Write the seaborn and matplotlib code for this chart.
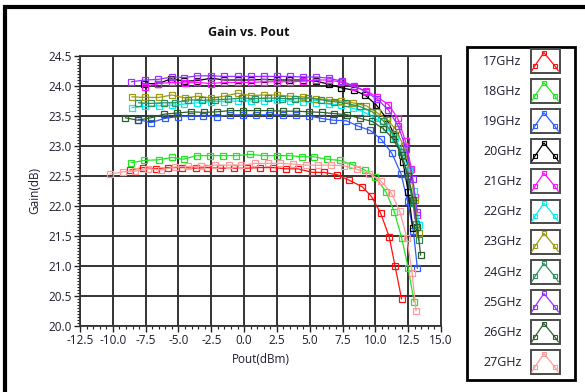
import numpy as np
import pandas as pd
import matplotlib
matplotlib.use("Agg")
import matplotlib.pyplot as plt
import seaborn as sns
from matplotlib.lines import Line2D
from matplotlib.patches import Rectangle
from matplotlib.legend_handler import HandlerBase
from matplotlib.ticker import MultipleLocator, FormatStrFormatter

# ---------------- data ----------------
freqs = ["17GHz", "18GHz", "19GHz", "20GHz", "21GHz", "22GHz",
         "23GHz", "24GHz", "25GHz", "26GHz", "27GHz"]

pout_17 = [-8.7, -7.7, -6.7, -5.8, -4.7, -3.7, -2.8, -1.8, -0.8, 0.2, 1.2, 2.2,
           3.2, 4.1, 5.2, 6.1, 7.1, 8.0, 9.0, 9.7, 10.4, 11.05, 11.5, 12.0]
gain_17 = [22.60, 22.64, 22.62, 22.64, 22.64, 22.63, 22.64, 22.63, 22.63, 22.63,
           22.64, 22.64, 22.62, 22.62, 22.56, 22.56, 22.52, 22.43, 22.32, 22.16,
           21.88, 21.49, 21.00, 20.45]

pout_18 = [-8.6, -7.6, -6.5, -5.5, -4.6, -3.6, -2.6, -1.6, -0.6, 0.45, 1.5, 2.5,
           3.4, 4.4, 5.3, 6.3, 7.3, 8.25, 9.2, 10.0, 10.8, 11.45, 12.0, 12.5, 12.95]
gain_18 = [22.72, 22.76, 22.77, 22.81, 22.78, 22.84, 22.84, 22.84, 22.84, 22.86,
           22.84, 22.84, 22.84, 22.82, 22.82, 22.78, 22.76, 22.69, 22.60, 22.48,
           22.24, 21.90, 21.47, 20.97, 20.40]

pout_19 = [-8.05, -7.1, -6.05, -5.05, -4.05, -3.1, -2.05, -1.05, -0.1, 0.9, 1.9,
           2.95, 3.95, 4.95, 5.9, 6.8, 7.8, 8.7, 9.6, 10.45, 11.25, 11.95, 12.45,
           12.9, 13.2]
gain_19 = [23.44, 23.39, 23.46, 23.49, 23.50, 23.50, 23.49, 23.52, 23.52, 23.52,
           23.52, 23.52, 23.51, 23.50, 23.46, 23.43, 23.42, 23.33, 23.26, 23.11,
           22.88, 22.54, 22.08, 21.58, 20.96]

pout_20 = [-7.6, -6.55, -5.55, -4.55, -3.55, -2.5, -1.5, -0.5, 0.5, 1.5, 2.5,
           3.45, 4.5, 5.5, 6.45, 7.4, 8.35, 9.2, 10.05, 10.85, 11.5, 12.1, 12.5,
           12.85]
gain_20 = [24.04, 24.04, 24.12, 24.08, 24.09, 24.13, 24.10, 24.10, 24.10, 24.11,
           24.10, 24.10, 24.10, 24.08, 24.03, 23.97, 23.93, 23.85, 23.69, 23.46,
           23.16, 22.74, 22.24, 21.64]

pout_21 = [-7.55, -6.55, -5.5, -4.5, -3.55, -2.55, -1.5, -0.5, 0.5, 1.5, 2.5,
           3.5, 4.5, 5.5, 6.5, 7.4, 8.35, 9.3, 10.1, 11.0, 11.7, 12.3, 12.75,
           13.0, 13.15]
gain_21 = [23.99, 24.04, 24.06, 24.05, 24.06, 24.04, 24.06, 24.06, 24.06, 24.07,
           24.07, 24.07, 24.08, 24.10, 24.10, 24.06, 23.99, 23.92, 23.82, 23.69,
           23.46, 23.08, 22.62, 22.15, 21.85]

pout_22 = [-8.55, -7.55, -6.5, -5.5, -4.55, -3.55, -2.55, -1.5, -0.5, 0.5, 1.5,
           2.5, 3.5, 4.5, 5.5, 6.45, 7.4, 8.3, 9.2, 10.0, 10.8, 11.5, 12.05,
           12.55, 12.95, 13.35]
gain_22 = [23.64, 23.66, 23.67, 23.68, 23.70, 23.72, 23.74, 23.74, 23.75, 23.75,
           23.75, 23.76, 23.75, 23.74, 23.72, 23.70, 23.68, 23.63, 23.56, 23.46,
           23.32, 23.14, 22.90, 22.60, 22.25, 21.68]

pout_23 = [-8.55, -7.55, -6.5, -5.5, -4.5, -3.5, -2.5, -1.5, -0.5, 0.5, 1.5,
           2.5, 3.5, 4.5, 5.45, 6.45, 7.35, 8.3, 9.3, 10.1, 10.9, 11.55, 12.15,
           12.65, 13.0, 13.3]
gain_23 = [23.82, 23.81, 23.81, 23.85, 23.80, 23.83, 23.80, 23.83, 23.88, 23.84,
           23.85, 23.85, 23.83, 23.82, 23.79, 23.77, 23.75, 23.72, 23.67, 23.56,
           23.44, 23.28, 23.00, 22.60, 22.10, 21.55]

pout_24 = [-8.05, -7.1, -6.1, -5.3, -4.3, -3.2, -2.2, -1.2, -0.15, 0.85, 1.85,
           2.9, 3.9, 4.9, 5.85, 6.85, 7.8, 8.8, 9.75, 10.6, 11.35, 11.95, 12.45,
           12.85, 13.1, 13.3]
gain_24 = [23.72, 23.71, 23.72, 23.72, 23.77, 23.76, 23.77, 23.78, 23.80, 23.79,
           23.80, 23.79, 23.79, 23.80, 23.77, 23.74, 23.71, 23.66, 23.57, 23.42,
           23.20, 22.90, 22.50, 22.05, 21.70, 21.43]

pout_25 = [-8.6, -7.55, -6.55, -5.5, -4.55, -3.55, -2.5, -1.5, -0.5, 0.5, 1.5,
           2.5, 3.5, 4.5, 5.5, 6.45, 7.45, 8.4, 9.3, 10.15, 11.0, 11.75, 12.35,
           12.85, 13.2]
gain_25 = [24.07, 24.10, 24.11, 24.15, 24.14, 24.17, 24.17, 24.16, 24.16, 24.16,
           24.16, 24.16, 24.16, 24.15, 24.15, 24.13, 24.08, 24.00, 23.90, 23.78,
           23.60, 23.33, 22.95, 22.45, 21.90]

pout_26 = [-9.05, -8.1, -7.1, -6.1, -5.1, -4.05, -3.05, -2.05, -1.05, -0.05, 0.95,
           1.95, 2.95, 3.95, 4.95, 5.95, 6.85, 7.85, 8.85, 9.75, 10.6, 11.35,
           12.0, 12.5, 12.9, 13.2, 13.45]
gain_26 = [23.47, 23.43, 23.47, 23.53, 23.55, 23.57, 23.56, 23.57, 23.59, 23.59,
           23.59, 23.59, 23.58, 23.58, 23.57, 23.56, 23.54, 23.52, 23.46, 23.41,
           23.29, 23.12, 22.85, 22.50, 22.10, 21.65, 21.18]

pout_27 = [-10.2, -9.2, -8.3, -7.3, -6.3, -5.3, -4.25, -3.3, -2.2, -1.15, -0.2,
           0.85, 1.8, 2.75, 3.7, 4.7, 5.65, 6.65, 7.6, 8.6, 9.55, 10.4, 11.2,
           11.85, 12.4, 12.8, 13.1]
gain_27 = [22.53, 22.57, 22.58, 22.62, 22.60, 22.65, 22.66, 22.66, 22.68, 22.68,
           22.68, 22.71, 22.71, 22.71, 22.70, 22.68, 22.68, 22.68, 22.67, 22.61,
           22.54, 22.42, 22.22, 21.92, 21.47, 20.88, 20.25]

pouts = [pout_17, pout_18, pout_19, pout_20, pout_21, pout_22,
         pout_23, pout_24, pout_25, pout_26, pout_27]
gains = [gain_17, gain_18, gain_19, gain_20, gain_21, gain_22,
         gain_23, gain_24, gain_25, gain_26, gain_27]

colors = ["#ff1010", "#22e622", "#2f5bff", "#000000", "#ff10ff", "#00f0f0",
          "#9c9a10", "#2e9060", "#9a30ff", "#2e5e2e", "#ff9a9a"]

x_ticks = [-12.5, -10.0, -7.5, -5.0, -2.5, 0.0, 2.5, 5.0, 7.5, 10.0, 12.5, 15.0]
y_ticks = [20.0, 20.5, 21.0, 21.5, 22.0, 22.5, 23.0, 23.5, 24.0, 24.5]

df = pd.concat([pd.DataFrame({"Pout": p, "Gain": g, "Freq": f})
                for p, g, f in zip(pouts, gains, freqs)], ignore_index=True)

# ---------------- styling ----------------
sns.set_style("white")
plt.rcParams["font.family"] = ["Open Sans", "DejaVu Sans"]
text_col = "#1c1c30"

W, H = 585, 392
fig = plt.figure(figsize=(W / 100, H / 100), dpi=100)
fig.patch.set_facecolor("white")

def fx(px):
    return px / W

def fy(py):
    return 1 - py / H

ax = fig.add_axes([fx(80), fy(326), fx(441) - fx(80), fy(56) - fy(326)])
ax.set_facecolor("white")

for f, c in zip(freqs, colors):
    sub = df[df["Freq"] == f]
    sns.lineplot(data=sub, x="Pout", y="Gain", ax=ax, color=c, sort=False,
                 estimator=None, lw=0.9, marker="s", markersize=4.6,
                 markerfacecolor="none", markeredgecolor=c, markeredgewidth=0.9,
                 legend=False, zorder=3)

ax.set_xlim(x_ticks[0], x_ticks[-1])
ax.set_ylim(y_ticks[0], y_ticks[-1])
ax.set_xticks(x_ticks)
ax.set_yticks(y_ticks)
ax.xaxis.set_major_formatter(FormatStrFormatter("%.1f"))
ax.yaxis.set_major_formatter(FormatStrFormatter("%.1f"))
ax.xaxis.set_minor_locator(MultipleLocator(0.5))
ax.yaxis.set_minor_locator(MultipleLocator(0.05))
ax.tick_params(axis="both", which="major", direction="out", length=4.5,
               width=1.0, color="#202020", labelsize=8.5, labelcolor=text_col,
               pad=1.5, bottom=True, left=True)
ax.tick_params(axis="both", which="minor", direction="out", length=2.5,
               width=0.8, color="#202020", bottom=True, left=True)
ax.grid(True, which="major", color="#333333", lw=1.4, zorder=1)
ax.set_axisbelow(True)
for s in ax.spines.values():
    s.set_color("#333333")
    s.set_linewidth(1.3)

ax.set_xlabel("Pout(dBm)", fontsize=8.5, color=text_col, labelpad=4)
ax.set_ylabel("Gain(dB)", fontsize=8.5, color=text_col, labelpad=5)
fig.text(fx(249), fy(33), "Gain vs. Pout", ha="center", va="center",
         fontsize=9, fontweight="bold", color="#101010")

# ---------------- legend ----------------
class IconHandler(HandlerBase):
    def create_artists(self, legend, orig_handle, xdescent, ydescent,
                       width, height, fontsize, trans):
        c = orig_handle.get_color()
        box = Rectangle((-xdescent, -ydescent), width, height, fc="white",
                        ec="#4a4a4a", lw=1.4, transform=trans)
        xs = np.array([0.03, 0.14, 0.45, 0.82, 0.95]) * width - xdescent
        ys = np.array([0.08, 0.3, 0.85, 0.3, 0.08]) * height - ydescent
        ln = Line2D(xs, ys, color=c, lw=0.9, marker="s", markersize=3.2,
                    markerfacecolor="none", markeredgecolor=c,
                    markeredgewidth=0.8, markevery=[1, 2, 3], transform=trans)
        return [box, ln]

handles = [Line2D([], [], color=c) for c in colors]
fs = 9
fpx = fs * 100 / 72
leg = fig.legend(handles, freqs, loc="upper left",
                 bbox_to_anchor=(fx(483), fy(49)), bbox_transform=fig.transFigure,
                 frameon=False, markerfirst=False, fontsize=fs,
                 handler_map={Line2D: IconHandler()},
                 handlelength=29 / fpx, handleheight=24 / fpx * (24 / 18),
                 labelspacing=0.5, handletextpad=0.75, borderpad=0,
                 borderaxespad=0)
for t in leg.get_texts():
    t.set_color(text_col)

fig.patches.append(Rectangle((fx(467), fy(380)), fx(575) - fx(467), fy(47) - fy(380),
                             transform=fig.transFigure, fill=False, ec="black",
                             lw=2.0, zorder=0))
# outer panel border (only top/left visible)
fig.patches.append(Rectangle((fx(5), -0.2), 1.3, fy(6.5) + 0.2,
                             transform=fig.transFigure, fill=False, ec="black",
                             lw=3.0, zorder=0))

fig.savefig("out.png", dpi=100, facecolor="white")
